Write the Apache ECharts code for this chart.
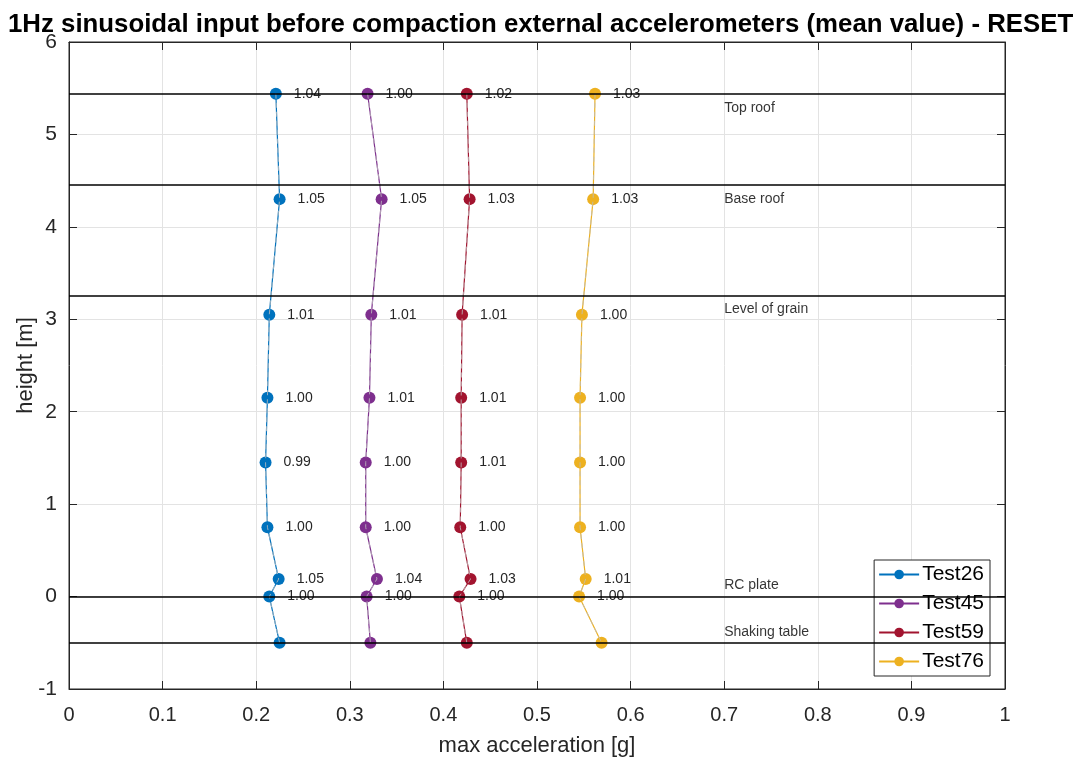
<!DOCTYPE html>
<html>
<head>
<meta charset="utf-8">
<script src="https://cdn.jsdelivr.net/npm/echarts@6/dist/echarts.min.js"></script>
<style>
  html, body { margin: 0; padding: 0; background: #fff; }
  #chart { width: 1077px; height: 763px; }
</style>
</head>
<body>
<div id="chart"></div>
<script>
// sensor heights [m]
const heights = [5.44, 4.30, 3.05, 2.15, 1.45, 0.75, 0.19, 0.00, -0.50];

// max acceleration [g] per test
const test26 = [0.221, 0.225, 0.214, 0.212, 0.210, 0.212, 0.224, 0.214, 0.225];
const test45 = [0.319, 0.334, 0.323, 0.321, 0.317, 0.317, 0.329, 0.318, 0.322];
const test59 = [0.425, 0.428, 0.420, 0.419, 0.419, 0.418, 0.429, 0.417, 0.425];
const test76 = [0.562, 0.560, 0.548, 0.546, 0.546, 0.546, 0.552, 0.545, 0.569];

// ratio labels next to points (none at shaking table)
const ratio26 = ['1.04', '1.05', '1.01', '1.00', '0.99', '1.00', '1.05', '1.00', ''];
const ratio45 = ['1.00', '1.05', '1.01', '1.01', '1.00', '1.00', '1.04', '1.00', ''];
const ratio59 = ['1.02', '1.03', '1.01', '1.01', '1.01', '1.00', '1.03', '1.00', ''];
const ratio76 = ['1.03', '1.03', '1.00', '1.00', '1.00', '1.00', '1.01', '1.00', ''];

const testNames = ['Test26', 'Test45', 'Test59', 'Test76'];
const testColors = ['#0072BD', '#7E2F8E', '#A2142F', '#EDB120'];

// structure levels
const levelHeights = [5.44, 4.46, 3.26, 0, -0.5];
const levelNames = ['Top roof', 'Base roof', 'Level of grain', 'RC plate', 'Shaking table'];
const levelLabelY = [5.28, 4.30, 3.11, 0.12, -0.38];
const levelLabelX = 0.7;

const chart = echarts.init(document.getElementById('chart'));

const font = 'Liberation Sans, Helvetica, Arial, sans-serif';
const axisColor = '#262626';

const allTests = [test26, test45, test59, test76];
const allRatios = [ratio26, ratio45, ratio59, ratio76];

const series = [];

// light dashed traces
allTests.forEach((vals) => {
  series.push({
    type: 'line',
    data: vals.map((v, i) => [v, heights[i]]),
    showSymbol: false,
    silent: true,
    z: 4,
    lineStyle: { color: 'rgba(190,190,190,0.8)', width: 1, type: [5, 4] }
  });
});

allTests.forEach((vals, k) => {
  series.push({
    name: testNames[k],
    type: 'line',
    data: vals.map((v, i) => [v, heights[i]]),
    symbol: 'circle',
    symbolSize: 12,
    z: 3,
    color: testColors[k],
    lineStyle: { color: testColors[k], width: 1.2 },
    label: {
      show: true,
      position: 'right',
      distance: 12,
      fontFamily: font,
      fontSize: 14,
      color: '#262626',
      formatter: (p) => allRatios[k][p.dataIndex]
    }
  });
});

// horizontal level lines
series.push({
  type: 'line',
  data: [],
  silent: true,
  markLine: {
    symbol: 'none',
    silent: true,
    animation: false,
    label: { show: false },
    lineStyle: { color: '#000', width: 1.5, type: 'solid' },
    data: levelHeights.map(h => ({ yAxis: h }))
  }
});

// level names
series.push({
  type: 'scatter',
  symbolSize: 0,
  silent: true,
  data: levelNames.map((n, i) => [levelLabelX, levelLabelY[i]]),
  label: {
    show: true,
    position: 'right',
    distance: 0,
    fontFamily: font,
    fontSize: 14,
    color: '#000',
    formatter: (p) => levelNames[p.dataIndex]
  }
});

const option = {
  animation: false,
  backgroundColor: '#fff',
  title: {
    text: '1Hz sinusoidal input before compaction external accelerometers (mean value) - RESET',
    left: 3,
    top: 7,
    textStyle: { fontFamily: font, fontSize: 25.8, fontWeight: 'bold', color: '#000' }
  },
  grid: {
    left: 69, right: 72, top: 42, bottom: 74,
    outerBoundsMode: 'none',
    containLabel: false,
    show: true, borderColor: axisColor, borderWidth: 1
  },
  legend: {
    data: testNames,
    orient: 'vertical',
    right: 87,
    top: 560,
    itemWidth: 40,
    itemHeight: 12,
    itemGap: 8,
    padding: [4, 6, 4, 4],
    backgroundColor: '#fff',
    borderColor: '#262626',
    borderWidth: 1,
    borderRadius: 0,
    textStyle: { fontFamily: font, fontSize: 21, color: '#000', padding: [0, 0, 0, -2] }
  },
  xAxis: [{
    type: 'value',
    min: 0, max: 1, interval: 0.1,
    name: 'max acceleration [g]',
    nameLocation: 'middle',
    nameGap: 46,
    nameTextStyle: { fontFamily: font, fontSize: 22, color: '#262626' },
    axisLine: { show: true, onZero: false, lineStyle: { color: axisColor } },
    axisTick: { show: true, inside: true, length: 8, lineStyle: { color: axisColor } },
    axisLabel: { fontFamily: font, fontSize: 20, color: '#262626', margin: 16 },
    splitLine: { show: true, lineStyle: { color: '#e3e3e3' } }
  }, {
    type: 'value', position: 'top',
    min: 0, max: 1, interval: 0.1,
    axisLine: { show: true, onZero: false, lineStyle: { color: axisColor } },
    axisTick: { show: true, inside: true, length: 8, lineStyle: { color: axisColor } },
    axisLabel: { show: false },
    splitLine: { show: false }
  }],
  yAxis: [{
    type: 'value',
    min: -1, max: 6, interval: 1,
    name: 'height [m]',
    nameLocation: 'middle',
    nameGap: 32,
    nameMoveOverlap: false,
    nameTextStyle: { fontFamily: font, fontSize: 22, color: '#262626' },
    axisLine: { show: true, onZero: false, lineStyle: { color: axisColor } },
    axisTick: { show: true, inside: true, length: 8, lineStyle: { color: axisColor } },
    axisLabel: { fontFamily: font, fontSize: 21, color: '#262626', margin: 12 },
    splitLine: { show: true, lineStyle: { color: '#e3e3e3' } }
  }, {
    type: 'value', position: 'right',
    min: -1, max: 6, interval: 1,
    axisLine: { show: true, onZero: false, lineStyle: { color: axisColor } },
    axisTick: { show: true, inside: true, length: 8, lineStyle: { color: axisColor } },
    axisLabel: { show: false },
    splitLine: { show: false }
  }],
  series: series
};

chart.setOption(option);
</script>
</body>
</html>
